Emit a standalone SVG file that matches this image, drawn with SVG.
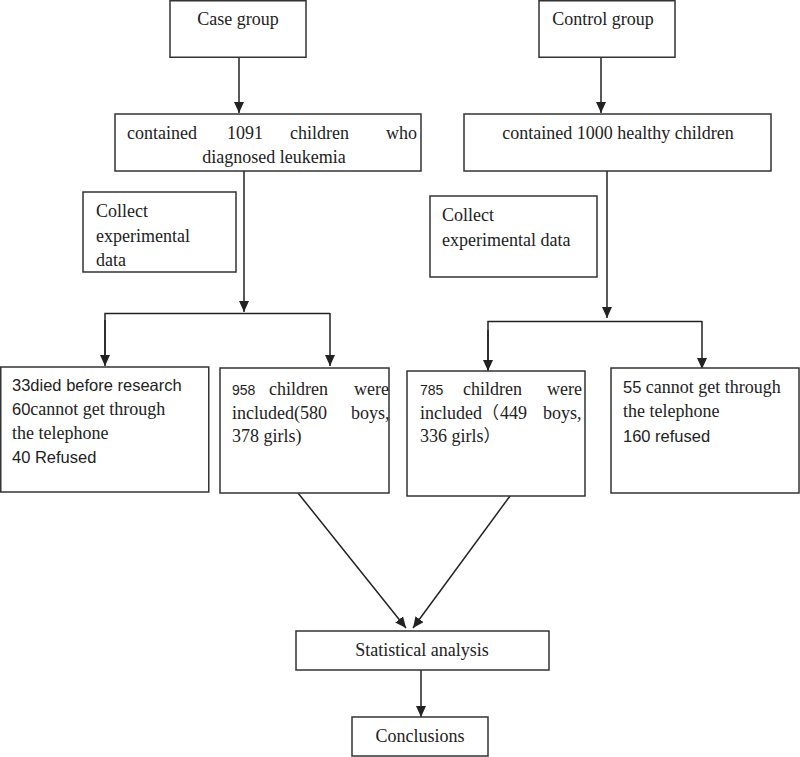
<svg xmlns="http://www.w3.org/2000/svg" width="800" height="757" viewBox="0 0 800 757">
<style>
.box{fill:#fff;stroke:#333;stroke-width:1.5}
.c{fill:none;stroke:#222;stroke-width:1.5}
.s{font-family:"Liberation Serif","Times New Roman",serif;font-size:18px;fill:#222}
.n{font-family:"Liberation Sans",Arial,sans-serif;font-size:16.5px;fill:#222}
.cjk{font-family:"Noto Sans CJK SC",sans-serif}
</style>
<defs>
<marker id="ah" markerWidth="11" markerHeight="10" refX="11" refY="5" orient="auto" markerUnits="userSpaceOnUse">
<path d="M0,0 L11,5 L0,10 z" fill="#222"/>
</marker>
</defs>
<rect width="800" height="757" fill="#fff"/>
<g id="connectors">
<line class="c" x1="239" y1="57" x2="239" y2="113" marker-end="url(#ah)"/>
<line class="c" x1="601" y1="57" x2="601" y2="113" marker-end="url(#ah)"/>
<line class="c" x1="244" y1="171" x2="244" y2="312" marker-end="url(#ah)"/>
<polyline class="c" points="105,364 105,313.5 330,313.5"/>
<line class="c" x1="105" y1="320" x2="105" y2="366" marker-end="url(#ah)"/>
<line class="c" x1="330" y1="313" x2="330" y2="366" marker-end="url(#ah)"/>
<line class="c" x1="607" y1="171" x2="607" y2="318" marker-end="url(#ah)"/>
<polyline class="c" points="488,370 488,321.5 702,321.5"/>
<line class="c" x1="488" y1="330" x2="488" y2="371" marker-end="url(#ah)"/>
<line class="c" x1="702" y1="321" x2="702" y2="369" marker-end="url(#ah)"/>
<line class="c" x1="298" y1="493" x2="406" y2="628" marker-end="url(#ah)"/>
<line class="c" x1="510" y1="496" x2="413" y2="628" marker-end="url(#ah)"/>
<line class="c" x1="421" y1="670" x2="421" y2="717" marker-end="url(#ah)"/>
</g>
<g id="case-group">
<rect class="box" x="170" y="0.75" width="136" height="56.5"/>
<text class="s" x="238" y="25" text-anchor="middle">Case group</text>
</g>
<g id="control-group">
<rect class="box" x="539" y="0.75" width="136" height="56.5"/>
<text class="s" x="603" y="25" text-anchor="middle">Control group</text>
</g>
<g id="case-contained">
<rect class="box" x="115" y="114" width="306" height="57"/>
<text class="s" y="139"><tspan x="127">contained</tspan><tspan x="227">1091</tspan><tspan x="290">children</tspan><tspan x="386">who</tspan></text>
<text class="s" x="274" y="163" text-anchor="middle">diagnosed leukemia</text>
</g>
<g id="control-contained">
<rect class="box" x="464" y="114" width="307" height="57"/>
<text class="s" x="618" y="139" text-anchor="middle">contained 1000 healthy children</text>
</g>
<g id="case-collect">
<rect class="box" x="83" y="192" width="153" height="80"/>
<text class="s" x="96" y="217">Collect</text>
<text class="s" x="96" y="242">experimental</text>
<text class="s" x="96" y="266">data</text>
</g>
<g id="control-collect">
<rect class="box" x="430" y="196" width="167" height="81"/>
<text class="s" x="442" y="221">Collect</text>
<text class="s" x="442" y="246">experimental data</text>
</g>
<g id="case-excluded">
<rect class="box" x="0.75" y="367" width="208" height="125"/>
<text class="n" x="12" y="391">33died before research</text>
<text x="12" y="415"><tspan class="n">60</tspan><tspan class="s">cannot get through</tspan></text>
<text class="s" x="12" y="439">the telephone</text>
<text class="n" x="12" y="463">40 Refused</text>
</g>
<g id="case-included">
<rect class="box" x="220" y="368" width="169" height="125"/>
<text y="395"><tspan class="n" x="232" style="font-size:14px">958</tspan><tspan class="s" x="269">children</tspan><tspan class="s" x="354">were</tspan></text>
<text class="s" y="419"><tspan x="232">included(580</tspan><tspan x="351">boys,</tspan></text>
<text class="s" x="232" y="442">378 girls)</text>
</g>
<g id="control-included">
<rect class="box" x="407" y="371" width="178" height="125"/>
<text y="395"><tspan class="n" x="420" style="font-size:14px">785</tspan><tspan class="s" x="463">children</tspan><tspan class="s" x="547">were</tspan></text>
<text class="s" y="419"><tspan x="420">included</tspan><tspan class="cjk" style="font-size:17px">（</tspan><tspan x="500">449</tspan><tspan x="543">boys,</tspan></text>
<text class="s" x="420" y="442">336 girls<tspan class="cjk" style="font-size:17px">）</tspan></text>
</g>
<g id="control-excluded">
<rect class="box" x="611" y="368" width="188" height="125"/>
<text x="623" y="393"><tspan class="n">55</tspan><tspan class="s"> cannot get through</tspan></text>
<text class="s" x="623" y="417">the telephone</text>
<text class="n" x="623" y="442">160 refused</text>
</g>
<g id="statistical-analysis">
<rect class="box" x="296" y="631" width="253" height="39"/>
<text class="s" x="422" y="656" text-anchor="middle">Statistical analysis</text>
</g>
<g id="conclusions">
<rect class="box" x="352" y="717" width="136" height="39"/>
<text class="s" x="420" y="742" text-anchor="middle">Conclusions</text>
</g>
</svg>
